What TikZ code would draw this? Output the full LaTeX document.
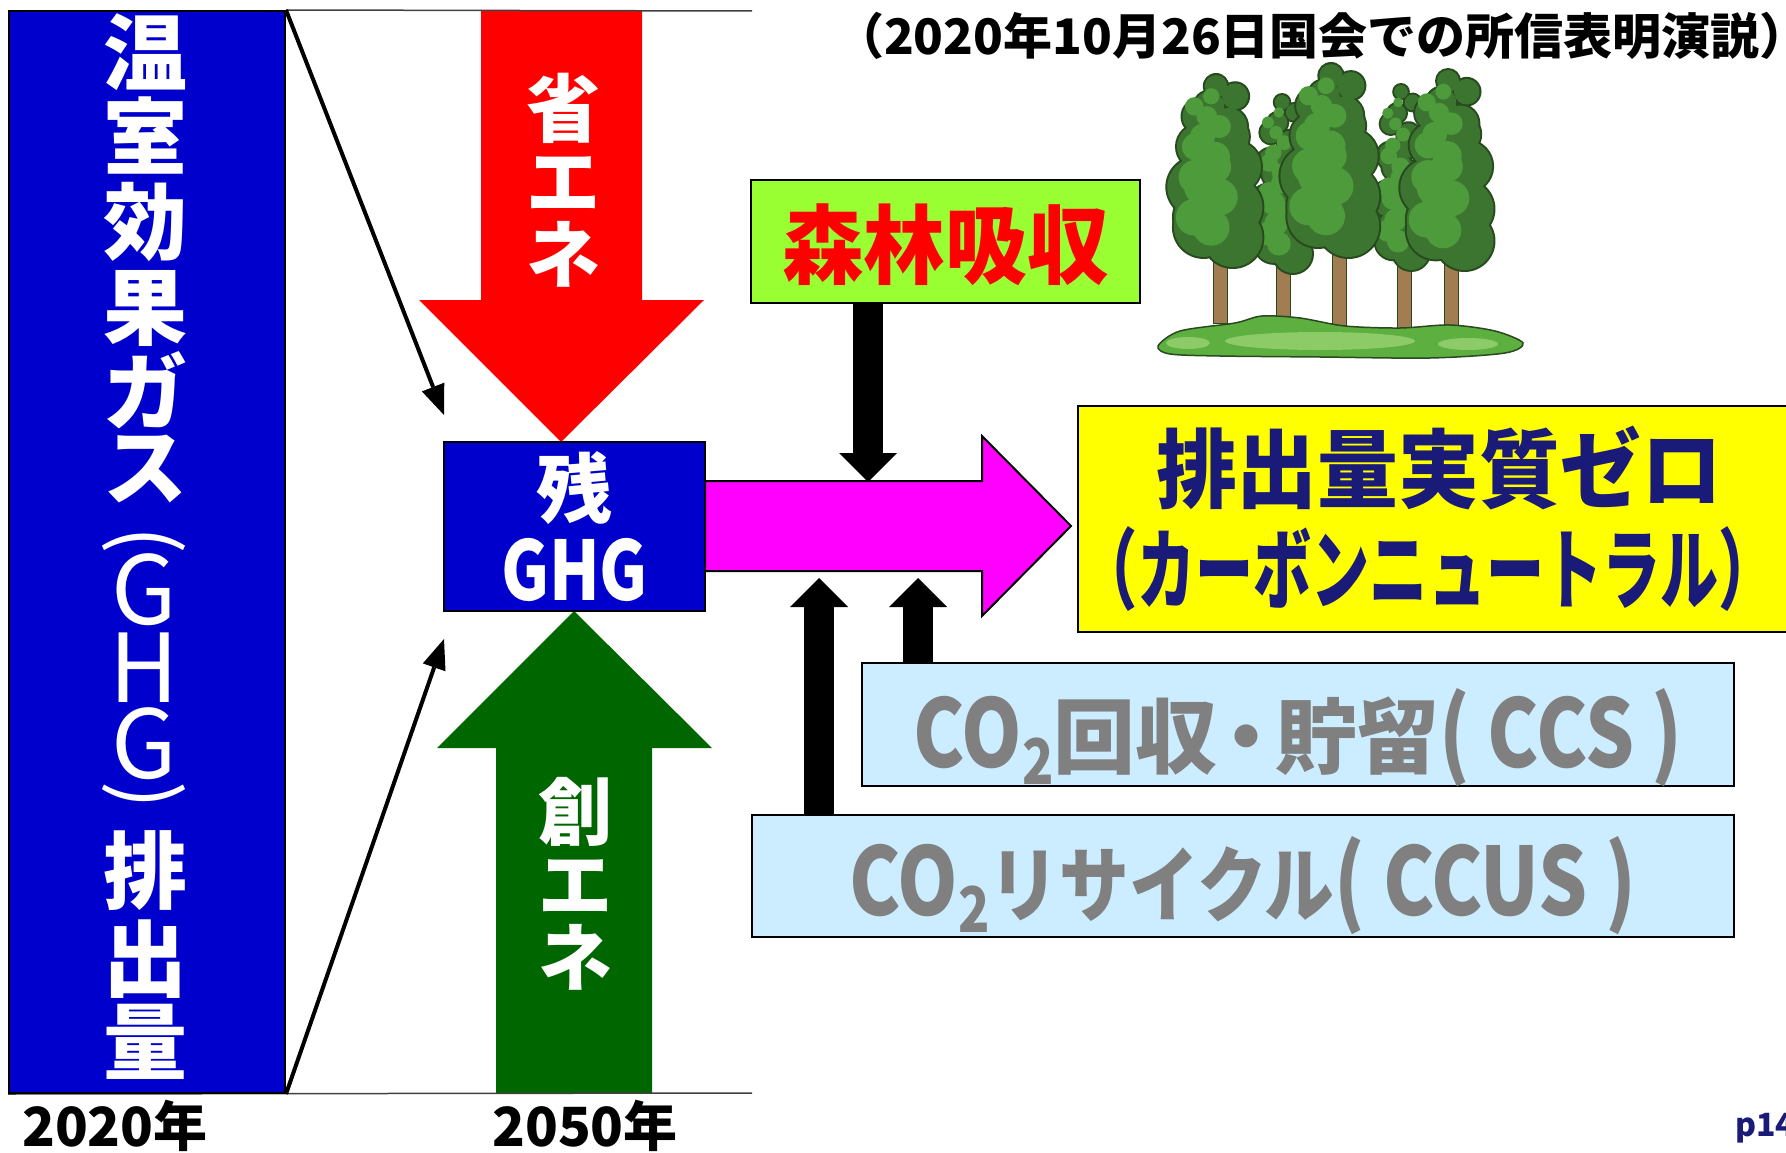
\documentclass[tikz,border=0pt]{standalone}
\usepackage{fontspec}
\usepackage{graphicx}
\setmainfont{Noto Sans CJK JP}
\usetikzlibrary{arrows.meta}
\pgfdeclarelayer{edgelayer}
\pgfdeclarelayer{nodelayer}
\pgfsetlayers{edgelayer,nodelayer,main}

\definecolor{ghgblue}{HTML}{0000CC}
\definecolor{savered}{HTML}{FF0000}
\definecolor{makegreen}{HTML}{006600}
\definecolor{netpink}{HTML}{FF00FF}
\definecolor{forestlime}{HTML}{99FF33}
\definecolor{zeroyellow}{HTML}{FFFF00}
\definecolor{ccsblue}{HTML}{CCECFF}
\definecolor{ccsgray}{HTML}{808080}
\definecolor{navy}{HTML}{1A1A78}
\definecolor{leafdark}{HTML}{3B752F}
\definecolor{leaflight}{HTML}{4E9B3C}
\definecolor{leafline}{HTML}{284A1E}
\definecolor{bark}{HTML}{A27D52}
\definecolor{grass}{HTML}{5DAF40}
\definecolor{grasslight}{HTML}{8CCB68}

\newcommand{\jsize}[1]{\bfseries\fontsize{#1}{#1}\selectfont}
\newcommand{\lat}[1]{\scalebox{0.82}[1]{\fontsize{94}{94}\selectfont #1}}
\newcommand{\cosub}{\raisebox{-17pt}{\scalebox{0.82}[1]{\fontsize{63}{63}\selectfont 2}}}
% one conifer crown: centre x, top y, bottom y, half width
\newcommand{\crown}[4]{%
  \foreach \k in {0,...,15}{
    \pgfmathsetmacro{\r}{#4*(0.22+0.36*min(1,\k/10))}
    \pgfmathsetmacro{\xc}{#1+#4*0.38*sin(\k*100)}
    \pgfmathsetmacro{\yc}{#2+0.22*#4+\k/15*(#3-#2-0.8*#4)}
    \fill[leafline] (\xc,\yc) circle[radius=\r pt+2pt];
  }
  \foreach \k in {0,...,15}{
    \pgfmathsetmacro{\r}{#4*(0.22+0.36*min(1,\k/10))}
    \pgfmathsetmacro{\xc}{#1+#4*0.38*sin(\k*100)}
    \pgfmathsetmacro{\yc}{#2+0.22*#4+\k/15*(#3-#2-0.8*#4)}
    \fill[leafdark] (\xc,\yc) circle[radius=\r pt];
  }
  \foreach \k in {1,...,14}{
    \pgfmathsetmacro{\r}{#4*(0.22+0.36*min(1,\k/10))}
    \pgfmathsetmacro{\xc}{#1-#4*0.18+#4*0.25*sin(\k*100+60)}
    \pgfmathsetmacro{\yc}{#2+0.22*#4+\k/15*(#3-#2-0.8*#4)}
    \fill[leaflight] (\xc,\yc) circle[radius=0.62*\r pt];
  }
}

\tikzstyle{none}=[inner sep=0pt]
\tikzstyle{box}=[draw=black, line width=2pt, inner sep=0pt]
\tikzstyle{vchar}=[inner sep=0pt, text=white, font=\jsize{84}]
\tikzstyle{vlatin}=[inner sep=0pt, text=white, font=\fontsize{95}{95}\selectfont]
\tikzstyle{thinarr}=[line width=4pt, -{Triangle[length=30pt,width=24pt,line width=0pt]}]
\tikzstyle{fatarr}=[line width=30pt, -{Triangle[length=29pt,width=58pt,line width=0pt]}]
\tikzstyle{axis}=[line width=1.5pt, black!75]

\begin{document}
\begin{tikzpicture}[x=1pt,y=-1pt]
	\useasboundingbox (0,0) rectangle (1786,1153);
	\begin{pgfonlayer}{nodelayer}
		\node [style=box, fill=ghgblue, minimum width=276pt, minimum height=1082pt] (emis) at (147,552) {};
		\foreach \ch/\yy [count=\i] in {温/52,室/135,効/222,果/308,ガ/390,ス/469,排/871,出/959,量/1042}
			\node [style=vchar] (v\i) at (145,\yy) {\ch};
		\foreach \ch/\yy [count=\i] in {G/590,H/668,G/744}
			\node [style=vlatin] (g\i) at (144,\yy) {\ch};
		% brackets turned for the upright column
		\node [style=vlatin, font=\fontsize{82}{82}\selectfont] (vopen) at (144,540) {\rotatebox{-90}{(}};
		\node [style=vlatin, font=\fontsize{82}{82}\selectfont] (vclose) at (144,795) {\rotatebox{-90}{)}};
		\node [style=none, text=white, align=center, font=\bfseries\fontsize{74}{73}\selectfont] (save) at (563,180) {省\\エ\\ネ};
		\node [style=none, text=white, align=center, font=\bfseries\fontsize{74}{73}\selectfont] (make) at (575,884) {創\\エ\\ネ};
		\node [style=box, fill=ghgblue, minimum width=261pt, minimum height=169pt, text=white, align=center, font=\bfseries\fontsize{76}{83}\selectfont] (ghg) at (574.5,526.5) {残\\\scalebox{0.8}[1]{\fontsize{82}{82}\selectfont GHG}};
		\node [style=box, fill=forestlime, minimum width=389pt, minimum height=123pt, text height=71pt, text depth=0pt, text=savered, font=\jsize{86}] (absorb) at (945.5,241.5) {\scalebox{0.95}[1]{森林吸収}};
		\node [style=box, fill=zeroyellow, minimum width=722pt, minimum height=226pt, text=navy, align=center, font=\bfseries\fontsize{86}{101}\selectfont] (zero) at (1439,519) {\scalebox{0.94}[1]{排出量実質ゼロ}\\\hspace*{-22pt}\scalebox{0.66}[1]{\fontsize{88}{88}\selectfont（カーボンニュートラル）}};
		\node [style=box, fill=ccsblue, minimum width=872pt, minimum height=123pt, text height=85pt, text depth=0pt, text=ccsgray, font=\jsize{82}] (ccs) at (1298,724.5) {\lat{CO}\cosub 回収\kern-12pt・\kern-12pt貯留\lat{( CCS )}};
		\node [style=box, fill=ccsblue, minimum width=982pt, minimum height=122pt, text height=78pt, text depth=0pt, text=ccsgray, font=\jsize{82}] (ccus) at (1243,876) {\lat{CO}\cosub\scalebox{0.85}[1]{リサイクル}\lat{( CCUS )}};
		\node [style=none, font=\jsize{49}] (speech) at (1322,36) {（2020年10月26日国会での所信表明演説）};
		\node [style=none, font=\jsize{54}] (y2020) at (115,1126) {2020年};
		\node [style=none, font=\jsize{54}] (y2050) at (585,1126) {2050年};
		\node [style=none, anchor=base west, text=navy, font=\jsize{32}] (page) at (1735,1136) {p14};
		\coordinate (gtop) at (444,415);
		\coordinate (gbot) at (444,639);
		\coordinate (axisend) at (752,11);
		\coordinate (baseend) at (752,1093);
		\coordinate (dn) at (868,482);
		\coordinate (upa) at (819,578);
		\coordinate (upb) at (918,578);
	\end{pgfonlayer}
	\begin{pgfonlayer}{edgelayer}
		% the three block arrows
		\fill [savered] (481,11) -- (642,11) -- (642,300) -- (704,300) -- (561,442) -- (419,300) -- (481,300) -- cycle;
		\fill [makegreen] (496,1093) -- (496,748) -- (437,748) -- (574,611) -- (712,748) -- (652,748) -- (652,1093) -- cycle;
		\draw [line width=2pt, fill=netpink] (705,481) -- (982,481) -- (982,436) -- (1071,526) -- (982,616) -- (982,571) -- (705,571) -- cycle;
		\draw [style=axis] (emis.north east) to (axisend);
		\draw [style=axis] (emis.south west) to (baseend);
		\draw [style=thinarr] (emis.north east) to (gtop);
		\draw [style=thinarr] (emis.south east) to (gbot);
		\draw [style=fatarr] (absorb.south -| dn) to (dn);
		\draw [style=fatarr] (ccus.north -| upa) to (upa);
		\draw [style=fatarr] (ccs.north -| upb) to (upb);
	\end{pgfonlayer}
	% forest
	\foreach \x/\t/\b in {1213/250/323, 1276/260/317, 1332/240/327, 1397/255/332, 1444/250/330}
		\draw [leafline, line width=1pt, fill=bark] (\x,\t) rectangle ++(14,\b-\t);
	\crown{1282}{95}{273}{33}
	\crown{1401}{85}{270}{31}
	\crown{1216}{75}{267}{51}
	\crown{1448}{70}{270}{50}
	\crown{1331}{64}{257}{53}
	\draw [leafline, line width=1.5pt, fill=grass] plot [smooth cycle] coordinates {(1158,346) (1180,331) (1235,323) (1262,316) (1300,318) (1345,326) (1400,328) (1450,325) (1495,331) (1523,343) (1505,353) (1430,358) (1320,357) (1220,356) (1170,354)};
	\fill [grasslight] (1320,341) ellipse [x radius=95pt, y radius=9pt];
	\fill [grasslight] (1188,343) ellipse [x radius=22pt, y radius=6pt];
	\fill [grasslight] (1468,344) ellipse [x radius=30pt, y radius=6pt];
\end{tikzpicture}
\end{document}
